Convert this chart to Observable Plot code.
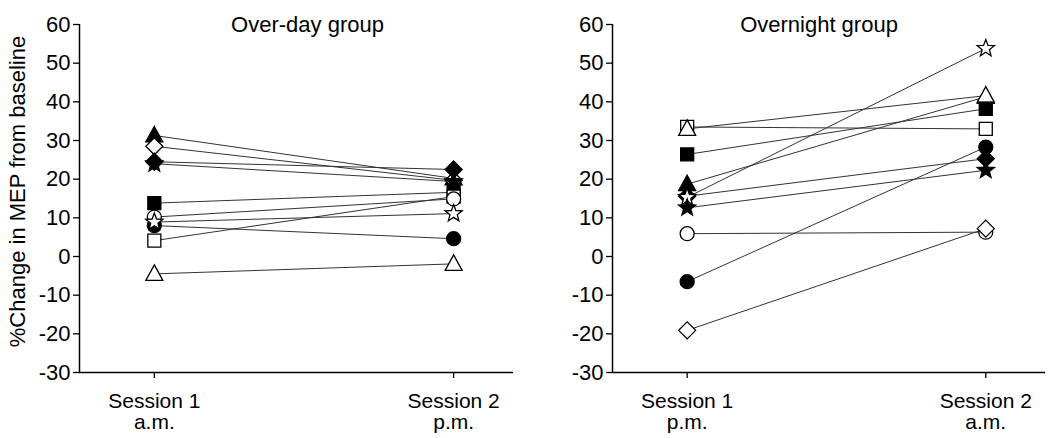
<!DOCTYPE html>
<html>
<head>
<meta charset="utf-8">
<script src="https://cdn.jsdelivr.net/npm/d3@7"></script>
<script src="https://cdn.jsdelivr.net/npm/@observablehq/plot@0.6"></script>
<style>
  html, body { margin: 0; padding: 0; background: #fff; }
  #wrap { display: flex; width: 1050px; height: 438px; }
</style>
</head>
<body>
<div id="wrap"></div>
<script>
// ---- data ----
const yTicks = [-30, -20, -10, 0, 10, 20, 30, 40, 50, 60];
const yLabel = "%Change in MEP from baseline";

const overDayTitle = "Over-day group";
const overDayTickLabels = ["Session 1\na.m.", "Session 2\np.m."];
const overDaySymbol = ["tri", "dia", "star", "dia", "sq", "sq", "circ", "circ", "star", "tri"];
const overDayFill   = ["black", "white", "black", "black", "black", "white", "black", "white", "white", "white"];
const overDayS1     = [31.3, 28.5, 24.0, 24.5, 13.8, 4.1, 8.0, 10.2, 8.9, -4.5];
const overDayS2     = [20.2, 19.7, 19.4, 22.5, 16.6, 15.5, 4.6, 14.9, 11.1, -1.9];

const overnightTitle = "Overnight group";
const overnightTickLabels = ["Session 1\np.m.", "Session 2\na.m."];
const overnightSymbol = ["sq", "tri", "tri", "sq", "dia", "star", "star", "circ", "circ", "dia"];
const overnightFill   = ["white", "black", "white", "black", "black", "white", "black", "white", "black", "white"];
const overnightS1     = [33.5, 18.7, 33.0, 26.4, 15.6, 15.3, 12.6, 5.9, -6.5, -19.1];
const overnightS2     = [33.0, 41.3, 41.6, 38.2, 25.3, 53.8, 22.3, 6.3, 28.3, 7.2];

// ---- custom symbols ----
const symbols = {
  circ: {draw(ctx) { ctx.moveTo(7, 0); ctx.arc(0, 0, 7, 0, 2 * Math.PI); ctx.closePath(); }},
  sq:   {draw(ctx) { ctx.rect(-6.5, -6.5, 13, 13); }},
  tri:  {draw(ctx) { ctx.moveTo(0, -9); ctx.lineTo(8.5, 6.5); ctx.lineTo(-8.5, 6.5); ctx.closePath(); }},
  dia:  {draw(ctx) { ctx.moveTo(0, -8.5); ctx.lineTo(8.5, 0); ctx.lineTo(0, 8.5); ctx.lineTo(-8.5, 0); ctx.closePath(); }},
  star: {draw(ctx) {
    const R = 9, r = 3.8;
    for (let i = 0; i < 10; i++) {
      const a = -Math.PI / 2 + i * Math.PI / 5;
      const rad = i % 2 === 0 ? R : r;
      const px = rad * Math.cos(a), py = rad * Math.sin(a);
      if (i === 0) ctx.moveTo(px, py); else ctx.lineTo(px, py);
    }
    ctx.closePath();
  }}
};
const symNames = Object.keys(symbols);

function panel({title, tickLabels, sym, fill, s1, s2, marginLeft, marginRight, titleDx, showLabel}) {
  const links = sym.map((s, i) => ({v1: s1[i], v2: s2[i]}));
  const dots = [];
  sym.forEach((s, i) => {
    dots.push({x: 0, y: s1[i], sym: s, fill: fill[i]});
    dots.push({x: 1, y: s2[i], sym: s, fill: fill[i]});
  });
  const marks = [
    Plot.link(links, {x1: () => 0, y1: "v1", x2: () => 1, y2: "v2", stroke: "#333", strokeWidth: 1}),
    Plot.dot(dots, {x: "x", y: "y", symbol: "sym", fill: "fill", stroke: "black", strokeWidth: 1.3, r: 7}),
    Plot.ruleX([-0.25], {stroke: "black", strokeWidth: 1.5}),
    Plot.ruleY([-30], {stroke: "black", strokeWidth: 1.5}),
    Plot.axisY({ticks: yTicks, tickFormat: d => String(d), tickSize: 6, tickPadding: 3, strokeWidth: 1.3, label: null}),
    Plot.axisX({ticks: [0, 1], tickFormat: i => tickLabels[i], tickSize: 6, tickPadding: 15, lineHeight: 1,
      fontSize: 21, strokeWidth: 1.3, label: null}),
    Plot.text([title], {frameAnchor: "top", dx: titleDx, dy: -8, fontSize: 22})
  ];
  if (showLabel) {
    marks.push(Plot.text([yLabel], {frameAnchor: "left", rotate: -90, textAnchor: "middle", lineAnchor: "middle",
      dx: -62, dy: -7, fontSize: 22}));
  }
  return Plot.plot({
    width: 525,
    height: 438,
    marginLeft, marginRight,
    marginTop: 24,
    marginBottom: 66,
    style: {fontFamily: "'Liberation Sans', Arial, sans-serif", fontSize: "22px", color: "black", background: "white", overflow: "visible"},
    x: {domain: [-0.25, 1.2]},
    y: {domain: [-30, 60]},
    color: {type: "identity"},
    symbol: {domain: symNames, range: symNames.map(k => symbols[k])},
    marks
  });
}

const wrap = document.getElementById("wrap");
wrap.appendChild(panel({title: overDayTitle, tickLabels: overDayTickLabels, sym: overDaySymbol, fill: overDayFill,
  s1: overDayS1, s2: overDayS2, marginLeft: 79, marginRight: 12, titleDx: 11, showLabel: true}));
wrap.appendChild(panel({title: overnightTitle, tickLabels: overnightTickLabels, sym: overnightSymbol, fill: overnightFill,
  s1: overnightS1, s2: overnightS2, marginLeft: 87, marginRight: 5, titleDx: -10, showLabel: false}));
</script>
</body>
</html>
